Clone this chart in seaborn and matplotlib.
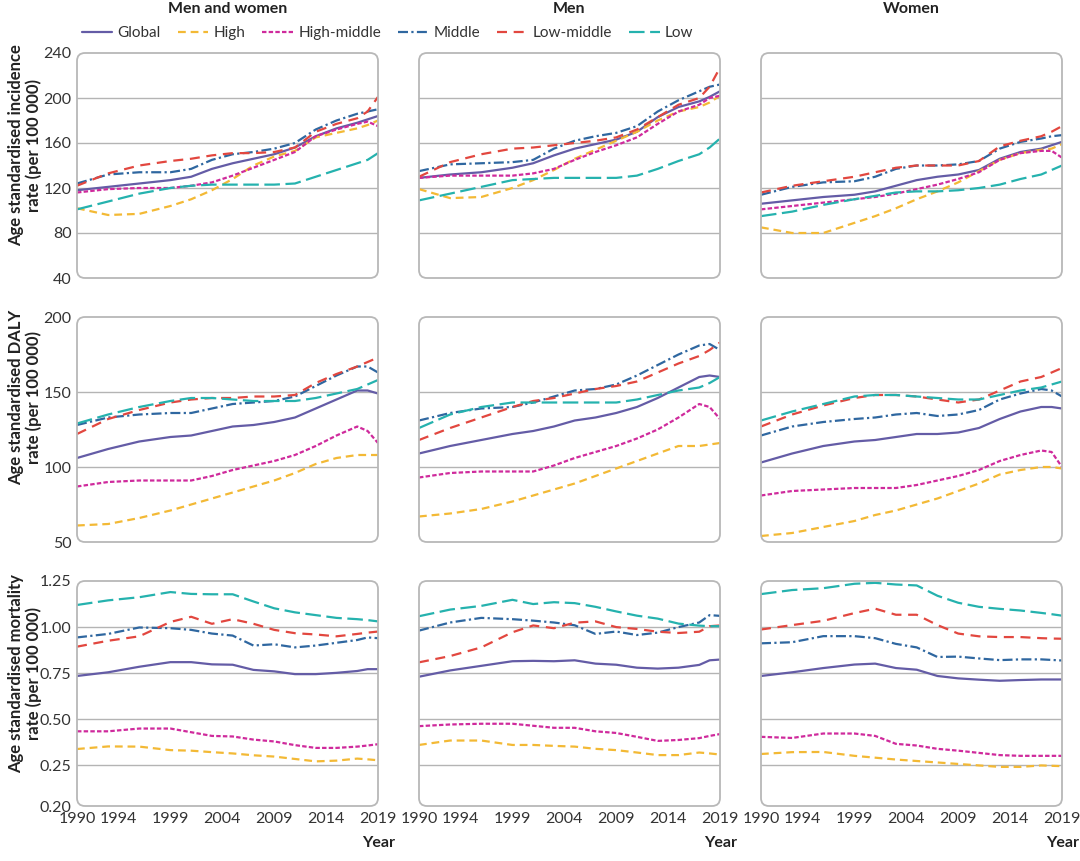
import numpy as np
import pandas as pd
import matplotlib
matplotlib.use("Agg")
import matplotlib.pyplot as plt
import seaborn as sns
from matplotlib.lines import Line2D
from matplotlib.patches import FancyBboxPatch

# years (common grid for every series)
years = [1990, 1993, 1996, 1999, 2001, 2003, 2005, 2007, 2009, 2011, 2013, 2015, 2017, 2018, 2019]
regiones = ["Global", "High", "High-middle", "Middle", "Low-middle", "Low"]
columnas = ["Men and women", "Men", "Women"]

# incidencia
inc_ambos = {
    "Global": [118, 121, 124, 127, 130, 137, 142, 146, 150, 156, 166, 173, 178, 181, 184],
    "High": [102, 96, 97, 104, 110, 118, 128, 140, 148, 153, 165, 169, 173, 176, 180],
    "High-middle": [116, 119, 120, 120, 122, 125, 131, 138, 145, 152, 166, 172, 177, 179, 175],
    "Middle": [124, 132, 134, 134, 137, 145, 150, 152, 155, 160, 172, 180, 186, 188, 190],
    "Low-middle": [122, 133, 140, 144, 146, 149, 151, 151, 152, 156, 170, 177, 182, 188, 201],
    "Low": [101, 108, 115, 120, 122, 123, 123, 123, 123, 124, 130, 136, 142, 145, 151],
}
inc_hombres = {
    "Global": [129, 132, 134, 138, 142, 149, 155, 159, 163, 170, 183, 192, 197, 201, 206],
    "High": [119, 111, 112, 120, 127, 136, 146, 154, 162, 170, 180, 188, 192, 196, 202],
    "High-middle": [129, 131, 131, 131, 133, 137, 145, 152, 158, 165, 177, 188, 194, 200, 202],
    "Middle": [135, 141, 142, 143, 145, 155, 162, 166, 169, 175, 188, 198, 206, 210, 212],
    "Low-middle": [130, 143, 150, 155, 156, 158, 160, 162, 165, 172, 183, 194, 200, 210, 227],
    "Low": [109, 115, 121, 127, 128, 129, 129, 129, 129, 131, 137, 144, 150, 156, 164],
}
inc_mujeres = {
    "Global": [106, 109, 112, 114, 117, 122, 127, 130, 132, 136, 146, 152, 155, 158, 161],
    "High": [85, 80, 80, 89, 95, 102, 110, 117, 125, 135, 145, 151, 154, 155, 159],
    "High-middle": [101, 104, 107, 110, 112, 115, 119, 123, 128, 134, 145, 151, 153, 153, 147],
    "Middle": [114, 121, 125, 126, 130, 137, 140, 140, 141, 144, 155, 161, 164, 166, 167],
    "Low-middle": [116, 122, 126, 130, 134, 138, 140, 140, 140, 144, 157, 162, 166, 170, 175],
    "Low": [95, 99, 105, 110, 113, 116, 117, 117, 118, 120, 123, 128, 132, 136, 140],
}

# DALY
daly_ambos = {
    "Global": [106, 112, 117, 120, 121, 124, 127, 128, 130, 133, 139, 145, 151, 151, 149],
    "High": [61, 62, 66, 71, 75, 79, 83, 87, 91, 96, 102, 106, 108, 108, 108],
    "High-middle": [87, 90, 91, 91, 91, 94, 98, 101, 104, 108, 114, 121, 127, 124, 116],
    "Middle": [128, 133, 135, 136, 136, 139, 142, 143, 144, 147, 154, 161, 167, 167, 163],
    "Low-middle": [122, 132, 138, 143, 145, 146, 146, 147, 147, 148, 156, 162, 167, 170, 173],
    "Low": [129, 135, 140, 144, 146, 146, 145, 144, 144, 144, 146, 149, 152, 155, 158],
}
daly_hombres = {
    "Global": [109, 114, 118, 122, 124, 127, 131, 133, 136, 140, 146, 153, 160, 161, 160],
    "High": [67, 69, 72, 77, 81, 85, 89, 94, 99, 104, 109, 114, 114, 115, 116],
    "High-middle": [93, 96, 97, 97, 97, 101, 106, 110, 114, 119, 125, 133, 142, 140, 132],
    "Middle": [131, 136, 139, 140, 143, 147, 151, 152, 155, 161, 168, 175, 181, 182, 178],
    "Low-middle": [118, 126, 133, 140, 144, 146, 149, 152, 154, 157, 163, 169, 174, 178, 183],
    "Low": [126, 135, 140, 143, 143, 143, 143, 143, 143, 145, 148, 151, 153, 156, 160],
}
daly_mujeres = {
    "Global": [103, 109, 114, 117, 118, 120, 122, 122, 123, 126, 132, 137, 140, 140, 139],
    "High": [54, 56, 60, 64, 68, 71, 75, 79, 84, 89, 95, 98, 100, 100, 99],
    "High-middle": [81, 84, 85, 86, 86, 86, 88, 91, 94, 98, 104, 108, 111, 110, 100],
    "Middle": [121, 127, 130, 132, 133, 135, 136, 134, 135, 138, 145, 149, 152, 151, 147],
    "Low-middle": [127, 135, 141, 146, 148, 148, 147, 145, 143, 145, 151, 157, 160, 163, 166],
    "Low": [131, 137, 142, 147, 148, 148, 147, 146, 145, 145, 148, 151, 153, 155, 157],
}

# mortalidad
mort_ambos = {
    "Global": [0.735, 0.755, 0.785, 0.81, 0.81, 0.798, 0.796, 0.768, 0.76, 0.745, 0.745, 0.752, 0.762, 0.772, 0.772],
    "High": [0.339, 0.353, 0.352, 0.333, 0.33, 0.322, 0.315, 0.305, 0.298, 0.285, 0.272, 0.276, 0.287, 0.283, 0.278],
    "High-middle": [0.435, 0.435, 0.45, 0.45, 0.43, 0.41, 0.407, 0.39, 0.38, 0.36, 0.345, 0.345, 0.352, 0.358, 0.365],
    "Middle": [0.944, 0.963, 0.998, 0.994, 0.985, 0.965, 0.954, 0.9, 0.907, 0.89, 0.9, 0.915, 0.93, 0.944, 0.94],
    "Low-middle": [0.894, 0.926, 0.95, 1.028, 1.056, 1.018, 1.043, 1.018, 0.985, 0.967, 0.96, 0.95, 0.963, 0.97, 0.976],
    "Low": [1.12, 1.145, 1.162, 1.19, 1.18, 1.178, 1.178, 1.139, 1.102, 1.08, 1.065, 1.05, 1.043, 1.038, 1.031],
}
mort_hombres = {
    "Global": [0.731, 0.765, 0.79, 0.815, 0.817, 0.815, 0.82, 0.802, 0.796, 0.78, 0.775, 0.78, 0.795, 0.82, 0.824],
    "High": [0.361, 0.385, 0.385, 0.361, 0.361, 0.356, 0.352, 0.34, 0.333, 0.32, 0.306, 0.306, 0.32, 0.315, 0.309],
    "High-middle": [0.463, 0.472, 0.476, 0.476, 0.465, 0.454, 0.454, 0.435, 0.426, 0.405, 0.383, 0.388, 0.398, 0.41, 0.42],
    "Middle": [0.981, 1.025, 1.05, 1.043, 1.035, 1.025, 1.01, 0.963, 0.976, 0.957, 0.97, 1.0, 1.025, 1.065, 1.061],
    "Low-middle": [0.809, 0.843, 0.89, 0.972, 1.009, 0.994, 1.024, 1.031, 1.0, 0.99, 0.975, 0.968, 0.975, 1.005, 1.009],
    "Low": [1.059, 1.095, 1.115, 1.148, 1.125, 1.135, 1.13, 1.11, 1.085, 1.062, 1.046, 1.019, 1.008, 1.005, 1.005],
}
mort_mujeres = {
    "Global": [0.735, 0.755, 0.778, 0.797, 0.802, 0.778, 0.769, 0.735, 0.722, 0.715, 0.709, 0.713, 0.716, 0.716, 0.716],
    "High": [0.312, 0.322, 0.323, 0.302, 0.292, 0.282, 0.274, 0.266, 0.258, 0.25, 0.242, 0.242, 0.25, 0.248, 0.246],
    "High-middle": [0.405, 0.399, 0.423, 0.423, 0.41, 0.367, 0.358, 0.34, 0.33, 0.318, 0.306, 0.302, 0.302, 0.302, 0.302],
    "Middle": [0.912, 0.918, 0.951, 0.951, 0.94, 0.909, 0.89, 0.838, 0.84, 0.83, 0.821, 0.825, 0.825, 0.822, 0.819],
    "Low-middle": [0.987, 1.011, 1.034, 1.076, 1.1, 1.067, 1.067, 1.011, 0.965, 0.95, 0.946, 0.946, 0.94, 0.938, 0.937],
    "Low": [1.179, 1.201, 1.211, 1.235, 1.24, 1.231, 1.226, 1.17, 1.132, 1.11, 1.099, 1.09, 1.077, 1.07, 1.062],
}

# ejes y
inc_ticks = [40, 80, 120, 160, 200, 240]
inc_labels = ["40", "80", "120", "160", "200", "240"]
daly_ticks = [50, 100, 150, 200]
daly_labels = ["50", "100", "150", "200"]
# el eje de mortalidad esta cortado: la base se rotula 0.20
mort_ticks = [0.03, 0.25, 0.50, 0.75, 1.00, 1.25]
mort_labels = ["0.20", "0.25", "0.50", "0.75", "1.00", "1.25"]
x_ticks = [1990, 1994, 1999, 2004, 2009, 2014, 2019]

filas = [
    ([inc_ambos, inc_hombres, inc_mujeres], inc_ticks, inc_labels,
     "Age standardised incidence\nrate (per 100 000)"),
    ([daly_ambos, daly_hombres, daly_mujeres], daly_ticks, daly_labels,
     "Age standardised DALY\nrate (per 100 000)"),
    ([mort_ambos, mort_hombres, mort_mujeres], mort_ticks, mort_labels,
     "Age standardised mortality\nrate (per 100 000)"),
]

colores = {
    "Global": "#645ca6",
    "High": "#f3b935",
    "High-middle": "#cf2a9c",
    "Middle": "#2f67a0",
    "Low-middle": "#e2473f",
    "Low": "#25b2ae",
}
guiones = {
    "Global": "",
    "High": (3.5, 2.2),
    "High-middle": (2, 1),
    "Middle": (4.5, 1.5, 1, 1.5),
    "Low-middle": (4.5, 3),
    "Low": (7, 2.5),
}

sns.set_theme(style="white")
plt.rcParams['font.family'] = ['Lato', 'DejaVu Sans']

fig = plt.figure(figsize=(10.8, 8.61), dpi=100)
W, H = 1080, 861
col_left = [77, 419, 761]
row_top = [53, 317, 581]
ylabel_centro = [145, 397, 674]
ancho, alto = 301, 225

for i, (datos, ticks, labels, ylabel) in enumerate(filas):
    for j in range(3):
        ax = fig.add_axes([col_left[j] / W, 1 - (row_top[i] + alto) / H, ancho / W, alto / H])
        df = pd.concat([pd.DataFrame({"year": years, "value": datos[j][r], "region": r})
                        for r in regiones], ignore_index=True)
        sns.lineplot(data=df, x="year", y="value", hue="region", style="region",
                     hue_order=regiones, style_order=regiones, palette=colores,
                     dashes=guiones, linewidth=1.6, legend=False, ax=ax, zorder=3)
        ax.set_xlim(1990, 2019)
        ax.set_ylim(ticks[0], ticks[-1])
        ax.set_yticks(ticks)
        ax.set_xticks(x_ticks)
        for t in ticks[1:-1]:
            ax.axhline(t, color="#b4b4b4", linewidth=1.0, zorder=1)
        for s in ax.spines.values():
            s.set_visible(False)
        ax.patch.set_visible(False)
        marco = FancyBboxPatch((0, 0), 1, 1, boxstyle="round,pad=0,rounding_size=%f" % (8 / ancho),
                               mutation_aspect=ancho / alto, transform=ax.transAxes,
                               facecolor="none", edgecolor="#b8b8b8", linewidth=1.3,
                               clip_on=False, zorder=4)
        ax.add_patch(marco)
        ax.tick_params(axis="x", direction="in", length=5, width=1, color="#b0b0b0",
                       labelsize=11.5, labelcolor="#333333", pad=4)
        ax.tick_params(axis="y", length=0, labelsize=11.5, labelcolor="#333333", pad=4)
        if j == 0:
            ax.set_yticklabels(labels)
        else:
            ax.set_yticklabels([])
        if i == 2:
            ax.set_xticklabels([str(x) for x in x_ticks])
        else:
            ax.set_xticklabels([])
        ax.set_xlabel("")
        ax.set_ylabel("")
        if i == 0:
            fig.text((col_left[j] + ancho / 2) / W, 1 - 9 / H, columnas[j], ha="center", va="center",
                     fontsize=11.5, fontweight="bold", color="#222222")
        if i == 2:
            fig.text((col_left[j] + ancho + 17) / W, 1 - 843 / H, "Year", ha="right", va="center",
                     fontsize=11.5, fontweight="bold", color="#222222")
    fig.text(25 / W, 1 - ylabel_centro[i] / H, ylabel, rotation=90, ha="center", va="center",
             multialignment="center", fontsize=12, fontweight="bold", color="#222222",
             linespacing=1.1)

handles = [Line2D([0], [0], color=colores[r], linewidth=1.6,
                  linestyle=("-" if guiones[r] == "" else (0, guiones[r]))) for r in regiones]
fig.legend(handles, regiones, loc="center left", bbox_to_anchor=(68 / W, 1 - 33 / H), ncol=6,
           frameon=False, fontsize=11, handlelength=2.0, handletextpad=0.35, columnspacing=1.1,
           labelcolor="#333333")

fig.savefig("out.png", dpi=100)
